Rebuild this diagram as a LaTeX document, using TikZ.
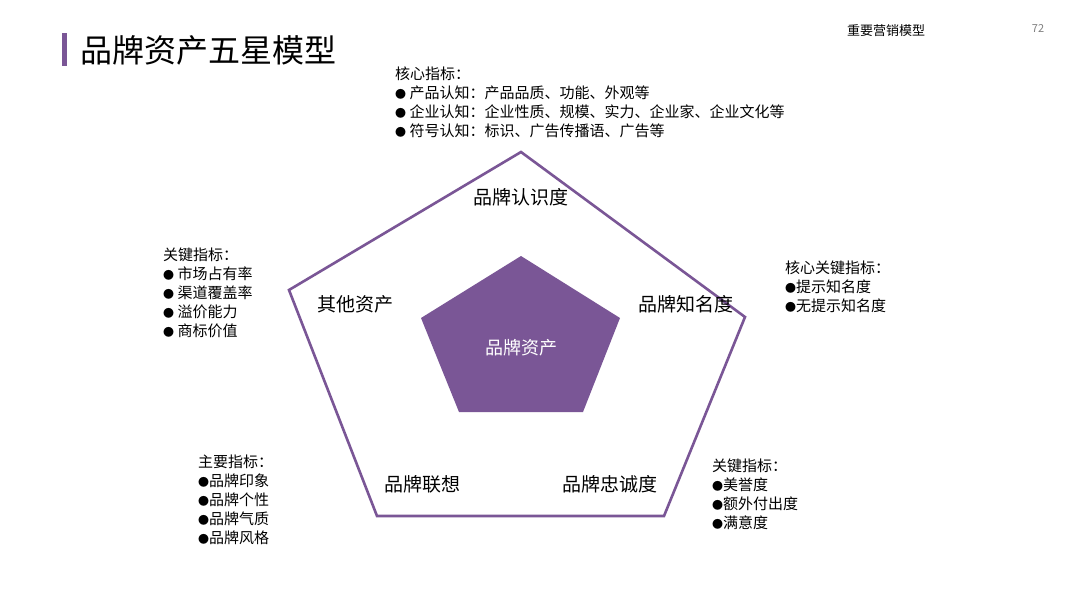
\documentclass[tikz,border=0pt]{standalone}
\usepackage{fontspec}
\setmainfont{Noto Sans CJK SC}
\definecolor{pur}{HTML}{7A5696}
\newcommand{\bu}{{\fontsize{11}{11}\selectfont ●}}
\begin{document}
\begin{tikzpicture}[x=1pt,y=-1pt,
  lbl/.style={font=\fontsize{19}{22}\selectfont,inner sep=0pt},
  blk/.style={font=\fontsize{15}{19}\selectfont,align=left,anchor=north west,inner sep=0pt}]
\useasboundingbox[fill=white] (0,0) rectangle (1080,608);
\fill[pur] (62,33) rectangle (67,66);
\node[anchor=west,inner sep=0pt,font=\fontsize{32}{34}\selectfont] (title) at (80,50) {品牌资产五星模型};
\node[inner sep=0pt,font=\fontsize{13}{15}\selectfont] (hdr) at (886,31) {重要营销模型};
\node[inner sep=0pt,font=\fontsize{11}{13}\selectfont,text=gray] (pg) at (1038,29) {72};
\coordinate (o1) at (521,152); \coordinate (o2) at (745,317); \coordinate (o3) at (664,516);
\coordinate (o4) at (377,516); \coordinate (o5) at (289,290);
\draw[pur,line width=2.6pt,line join=miter] (o1)--(o2)--(o3)--(o4)--(o5)--cycle;
\fill[pur] (521,256)--(620,318)--(583,412)--(459,412)--(421,318)--cycle;
\node[lbl,text=white,font=\fontsize{18}{20}\selectfont] (core) at (521,348) {品牌资产};
\node[lbl] (a) at (521,197) {品牌认识度};
\node[lbl] (b) at (686,304) {品牌知名度};
\node[lbl] (c) at (610,484) {品牌忠诚度};
\node[lbl] (d) at (422,484) {品牌联想};
\node[lbl] (e) at (355,304) {其他资产};
\node[blk] (t1) at (395,67) {核心指标：\\\bu\ 产品认知：产品品质、功能、外观等\\\bu\ 企业认知：企业性质、规模、实力、企业家、企业文化等\\\bu\ 符号认知：标识、广告传播语、广告等};
\node[blk] (t2) at (163,248) {关键指标：\\\bu\ 市场占有率\\\bu\ 渠道覆盖率\\\bu\ 溢价能力\\\bu\ 商标价值};
\node[blk] (t3) at (785,261) {核心关键指标：\\\bu 提示知名度\\\bu 无提示知名度};
\node[blk] (t4) at (198,455) {主要指标：\\\bu 品牌印象\\\bu 品牌个性\\\bu 品牌气质\\\bu 品牌风格};
\node[blk] (t5) at (712,459) {关键指标：\\\bu 美誉度\\\bu 额外付出度\\\bu 满意度};
\end{tikzpicture}
\end{document}
